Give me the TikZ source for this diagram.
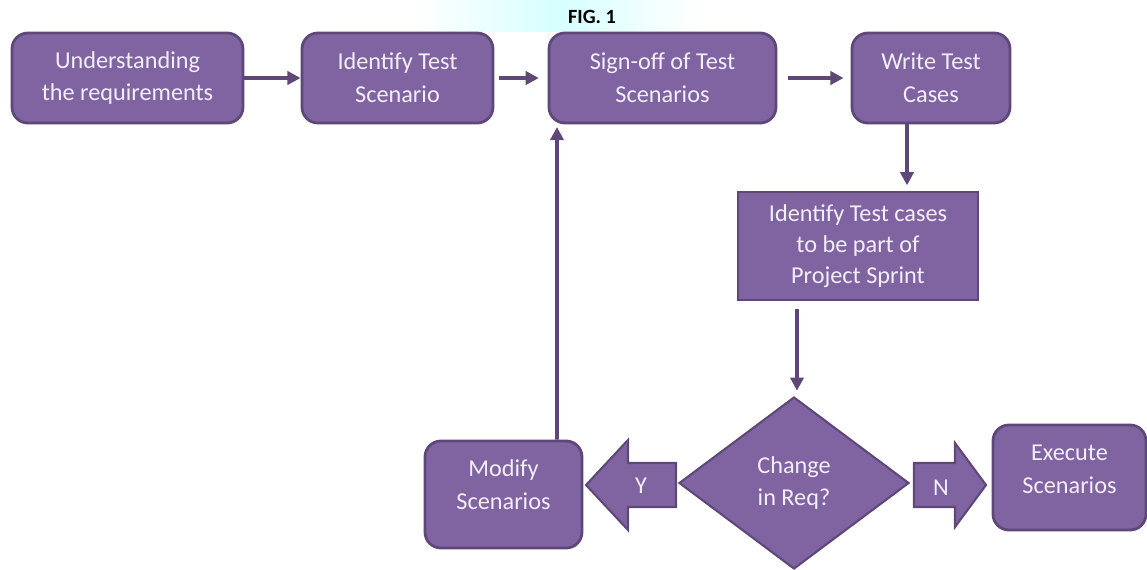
\documentclass[tikz,border=0pt]{standalone}
\usepackage{fontspec}
\setmainfont{Carlito}
\usetikzlibrary{shapes.geometric,arrows.meta,calc}
\definecolor{boxfill}{HTML}{8064A2}
\definecolor{boxdraw}{HTML}{5E4878}
\definecolor{txtc}{HTML}{F2EEF6}
\definecolor{linec}{HTML}{5E4878}
\begin{document}
\begin{tikzpicture}[x=0.02cm,y=-0.02cm,
  box/.style={draw=boxdraw, fill=boxfill, line width=1.6pt, rounded corners=9pt,
    text=txtc, align=center, font=\fontsize{13.8}{18.7}\selectfont, inner sep=0pt},
  sqbox/.style={box, rounded corners=0pt},
  lbl/.style={text=txtc, align=center, font=\fontsize{13.8}{18.7}\selectfont},
  conn/.style={draw=linec, line width=2pt, -{Triangle[length=7.5pt,width=7.5pt]}},
  blockarrow/.style={draw=boxdraw, fill=boxfill, line width=1.2pt, line join=miter}
]
\useasboundingbox (0,0) rectangle (1147,569);
\shade[left color=white, right color=white, middle color=cyan!16] (415,0) rectangle (700,31);
\node[font=\bfseries\fontsize{11.5}{13}\selectfont] (fig) at (592,17) {FIG. 1};

\node[box, minimum width=4.62cm, minimum height=1.8cm] (u) at (127.5,78) {Understanding\\the requirements};
\node[box, minimum width=3.82cm, minimum height=1.8cm] (i) at (397.5,78) {Identify Test\\Scenario};
\node[box, minimum width=4.54cm, minimum height=1.8cm] (s) at (662.5,78) {Sign-off of Test\\Scenarios};
\node[box, minimum width=3.16cm, minimum height=1.8cm] (w) at (931,78) {Write Test\\Cases};
\node[sqbox, minimum width=4.8cm, minimum height=2.16cm, font=\fontsize{13.8}{17.6}\selectfont] (p) at (858,246) {Identify Test cases\\to be part of\\Project Sprint};
\node[box, minimum width=3.14cm, minimum height=2.14cm, label={[lbl, yshift=5.5pt]center:Modify\\Scenarios}] (m) at (503.5,494.5) {};
\node[box, minimum width=3.06cm, minimum height=2.1cm, label={[lbl, yshift=4.5pt]center:Execute\\Scenarios}] (e) at (1069.5,477.5) {};
\node[diamond, draw=boxdraw, fill=boxfill, line width=1.2pt, inner sep=0pt, aspect=1.35,
  minimum width=4.6cm, minimum height=3.44cm, text=txtc, align=center,
  font=\fontsize{13.8}{18.7}\selectfont] (d) at (794,483) {Change\\in Req?};

\draw[blockarrow] (676,463) -- (628,463) -- (628,440) -- (586,485) -- (628,530) -- (628,507) -- (676,507) -- cycle;
\node[lbl] (y) at (641,486) {Y};
\draw[blockarrow] (914,463) -- (955,463) -- (955,443) -- (986,485) -- (955,527) -- (955,507) -- (914,507) -- cycle;
\node[lbl] (n) at (941,488) {N};

\draw[conn] (u.east) -- (i.west);
\draw[conn, shorten <=2.5pt, shorten >=5pt] (i.east) -- (s.west);
\draw[conn, shorten <=6pt, shorten >=4pt] (s.east) -- (w.west);
\draw[conn, shorten >=3pt] ($(w.south)+(-24,0)$) -- ($(p.north)+(49,0)$);
\draw[conn, shorten <=4.5pt, shorten >=3pt] ($(p.south)+(-61,0)$) -- ($(d.north)+(3,0)$);
\draw[conn, shorten >=1.5pt] ($(m.north)+(53.5,0)$) -- ($(s.south)+(-105.5,0)$);
\end{tikzpicture}
\end{document}
